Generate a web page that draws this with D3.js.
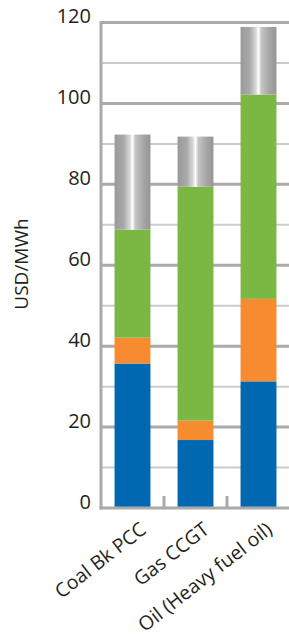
<!DOCTYPE html>
<html>
<head>
<meta charset="utf-8">
<script src="https://cdn.jsdelivr.net/npm/d3@7"></script>
<style>
  body { margin: 0; background: #fff; }
  text { font-family: "Open Sans", "Noto Sans", sans-serif; fill: #231f20; }
</style>
</head>
<body>
<div id="chart"></div>
<script>
var categories = ["Coal Bk PCC", "Gas CCGT", "Oil (Heavy fuel oil)"];
var seriesKeys = ["s1", "s2", "s3", "s4"];
// segment heights, bottom to top
var s1 = [35.7, 16.8, 31.3];
var s2 = [6.4, 4.8, 20.4];
var s3 = [26.7, 57.8, 50.5];
var s4 = [23.5, 12.4, 16.7];
var yTicks = [0, 20, 40, 60, 80, 100, 120];
var yMinor = [10, 30, 50, 70, 90, 110];

var width = 289, height = 644;
var margin = {top: 22.5, left: 101, bottom: 136};

var svg = d3.select("#chart").append("svg")
    .attr("width", width)
    .attr("height", height);

var rows = categories.map(function(c, i) {
  return {cat: c, s1: s1[i], s2: s2[i], s3: s3[i], s4: s4[i]};
});
var stacked = d3.stack().keys(seriesKeys)(rows);

var x = d3.scaleBand()
    .domain(categories)
    .range([margin.left, 290])
    .paddingInner(0.43)
    .paddingOuter(0.215);

var y = d3.scaleLinear()
    .domain([0, 120])
    .range([height - margin.bottom, margin.top]);

// gradient for the top segment
var defs = svg.append("defs");
var grad = defs.append("linearGradient")
    .attr("id", "metal")
    .attr("x1", "0%").attr("x2", "100%")
    .attr("y1", "0%").attr("y2", "0%");
grad.append("stop").attr("offset", "0%").attr("stop-color", "#9a9a9a");
grad.append("stop").attr("offset", "25%").attr("stop-color", "#a8a8a8");
grad.append("stop").attr("offset", "42%").attr("stop-color", "#d6d6d6");
grad.append("stop").attr("offset", "50%").attr("stop-color", "#ffffff");
grad.append("stop").attr("offset", "58%").attr("stop-color", "#c4c4c4");
grad.append("stop").attr("offset", "80%").attr("stop-color", "#a6a6a6");
grad.append("stop").attr("offset", "100%").attr("stop-color", "#959595");

var colors = {s1: "#0067b1", s2: "#f68b30", s3: "#7ab743", s4: "url(#metal)"};

// gridlines
svg.append("g").selectAll("line.minor")
  .data(yMinor)
  .join("line")
    .attr("x1", margin.left).attr("x2", width)
    .attr("y1", function(d) { return y(d); })
    .attr("y2", function(d) { return y(d); })
    .attr("stroke", "#cccccc")
    .attr("stroke-width", 2);

svg.append("g").selectAll("line.major")
  .data(yTicks.filter(function(d) { return d > 0; }))
  .join("line")
    .attr("x1", margin.left).attr("x2", width)
    .attr("y1", function(d) { return y(d); })
    .attr("y2", function(d) { return y(d); })
    .attr("stroke", "#aaaaaa")
    .attr("stroke-width", 3);

// bars
svg.append("g").selectAll("g")
  .data(stacked)
  .join("g")
    .attr("fill", function(d) { return colors[d.key]; })
  .selectAll("rect")
  .data(function(d) { return d; })
  .join("rect")
    .attr("x", function(d) { return x(d.data.cat); })
    .attr("y", function(d) { return y(d[1]); })
    .attr("width", x.bandwidth())
    .attr("height", function(d) { return y(d[0]) - y(d[1]); });

// axes frame
svg.append("line")
    .attr("x1", margin.left).attr("x2", margin.left)
    .attr("y1", y(120) - 1.5).attr("y2", y(0) + 1.5)
    .attr("stroke", "#aaaaaa").attr("stroke-width", 3);
svg.append("line")
    .attr("x1", margin.left - 1.5).attr("x2", width)
    .attr("y1", y(0)).attr("y2", y(0))
    .attr("stroke", "#aaaaaa").attr("stroke-width", 3);

// category separator ticks
var step = x.step();
svg.append("g").selectAll("line")
  .data(categories.slice(1))
  .join("line")
    .attr("x1", function(d) { return x(d) - x.paddingInner() * step / 2; })
    .attr("x2", function(d) { return x(d) - x.paddingInner() * step / 2; })
    .attr("y1", y(0)).attr("y2", y(0) - 12)
    .attr("stroke", "#aaaaaa").attr("stroke-width", 3);

// y tick labels
svg.append("g").selectAll("text")
  .data(yTicks)
  .join("text")
    .attr("x", 91)
    .attr("y", function(d) { return y(d) - 6.5; })
    .attr("dy", "0.35em")
    .attr("text-anchor", "end")
    .attr("font-size", "20px")
    .text(function(d) { return d; });

// y axis title
svg.append("text")
    .attr("transform", "translate(28,264) rotate(-90)")
    .attr("text-anchor", "middle")
    .attr("font-size", "19px")
    .text("USD/MWh");

// category labels
svg.append("g").selectAll("text")
  .data(categories)
  .join("text")
    .attr("transform", function(d) {
      return "translate(" + (x(d) + x.bandwidth() / 2 + 15) + "," + (y(0) + 24) + ") rotate(-38)";
    })
    .attr("text-anchor", "end")
    .attr("font-size", "19.5px")
    .text(function(d) { return d; });
</script>
</body>
</html>
